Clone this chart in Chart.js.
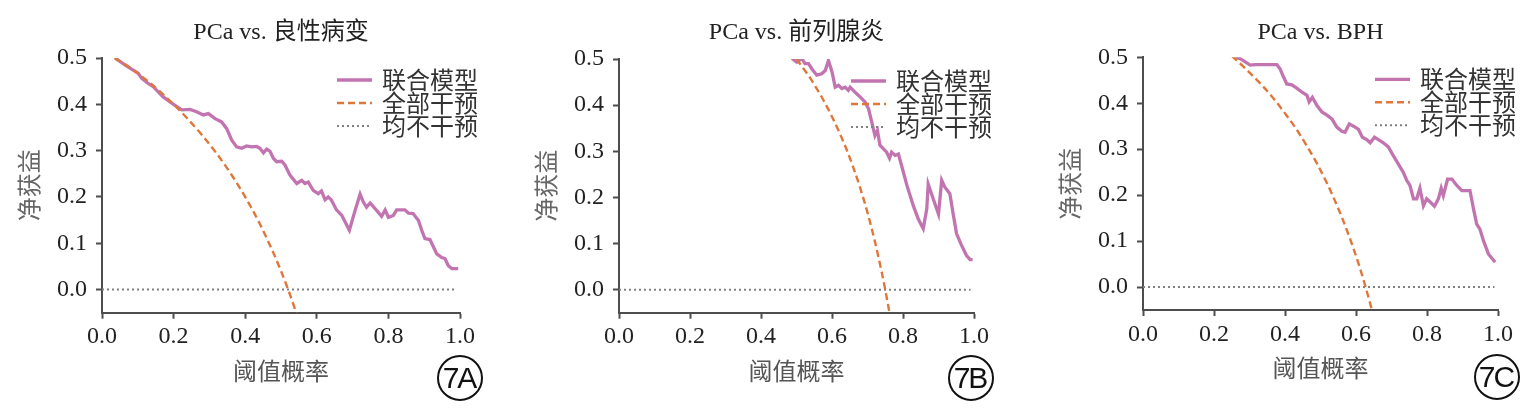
<!DOCTYPE html>
<html>
<head>
<meta charset="utf-8">
<script src="https://cdn.jsdelivr.net/npm/chart.js@4.4.0/dist/chart.umd.min.js"></script>
<style>
  html, body { margin: 0; padding: 0; background: #ffffff; width: 1533px; height: 408px; overflow: hidden; }
  .panel { position: absolute; top: 0; width: 511px; height: 408px; }
  .badge { position: absolute; width: 46px; height: 46px; box-sizing: border-box; border: 2px solid #111;
           border-radius: 50%; display: flex; align-items: center; justify-content: center;
           font-family: "Liberation Sans", sans-serif; font-size: 30px; letter-spacing: -2px; color: #111;
           padding-right: 2px; }
</style>
</head>
<body>
<div class="panel" style="left:0px"><canvas id="cA" width="511" height="408"></canvas></div>
<div class="panel" style="left:517px"><canvas id="cB" width="511" height="408"></canvas></div>
<div class="panel" style="left:1041px"><canvas id="cC" width="511" height="408"></canvas></div>
<div class="badge" style="left:437px; top:355px">7A</div>
<div class="badge" style="left:948px; top:355px">7B</div>
<div class="badge" style="left:1474px; top:354px">7C</div>
<script>
// ---- text ----
const panelTitles = ['PCa vs. 良性病变', 'PCa vs. 前列腺炎', 'PCa vs. BPH'];
const seriesNames = ['联合模型', '全部干预', '均不干预'];
const xAxisTitle = '阈值概率';
const yAxisTitle = '净获益';

// ---- tick values ----
const xTickValues = [0.0, 0.2, 0.4, 0.6, 0.8, 1.0];
const yTickValues = [0.0, 0.1, 0.2, 0.3, 0.4, 0.5];

// ---- series: [threshold, net benefit] ----
const modelA = [[0.036,0.500],[0.064,0.485],[0.087,0.474],[0.101,0.467],[0.111,0.456],[0.129,0.445],[0.143,0.438],[0.157,0.427],[0.171,0.416],[0.190,0.405],[0.209,0.395],[0.223,0.388],[0.246,0.389],[0.264,0.384],[0.283,0.377],[0.297,0.380],[0.316,0.369],[0.334,0.362],[0.348,0.348],[0.362,0.323],[0.376,0.308],[0.390,0.305],[0.404,0.310],[0.418,0.308],[0.432,0.309],[0.441,0.305],[0.451,0.295],[0.460,0.303],[0.469,0.299],[0.479,0.283],[0.488,0.276],[0.502,0.277],[0.511,0.269],[0.525,0.247],[0.544,0.229],[0.558,0.236],[0.567,0.229],[0.576,0.232],[0.590,0.214],[0.604,0.207],[0.613,0.213],[0.623,0.194],[0.632,0.200],[0.641,0.193],[0.655,0.172],[0.670,0.160],[0.691,0.128],[0.707,0.171],[0.721,0.206],[0.730,0.189],[0.739,0.178],[0.749,0.187],[0.767,0.171],[0.781,0.158],[0.791,0.172],[0.800,0.156],[0.814,0.160],[0.823,0.172],[0.846,0.172],[0.856,0.165],[0.869,0.164],[0.884,0.149],[0.893,0.128],[0.902,0.110],[0.916,0.108],[0.926,0.092],[0.935,0.077],[0.949,0.069],[0.958,0.067],[0.967,0.052],[0.977,0.045],[0.995,0.045]];
const treatAllA = [[0.036,0.500],[0.08,0.478],[0.12,0.455],[0.16,0.429],[0.20,0.400],[0.24,0.368],[0.28,0.333],[0.32,0.294],[0.36,0.250],[0.40,0.200],[0.44,0.143],[0.48,0.077],[0.50,0.040],[0.52,0.000],[0.54,-0.044],[0.56,-0.091]];
const treatNoneA = [[0.0,0.0],[0.99,0.0]];

const modelB = [[0.487,0.501],[0.501,0.493],[0.515,0.501],[0.524,0.490],[0.534,0.490],[0.543,0.479],[0.557,0.465],[0.571,0.468],[0.581,0.475],[0.590,0.497],[0.600,0.472],[0.609,0.439],[0.618,0.443],[0.628,0.436],[0.637,0.439],[0.646,0.432],[0.651,0.439],[0.665,0.428],[0.679,0.418],[0.693,0.407],[0.703,0.392],[0.712,0.363],[0.721,0.334],[0.728,0.345],[0.735,0.313],[0.745,0.305],[0.754,0.298],[0.762,0.285],[0.768,0.298],[0.778,0.291],[0.787,0.294],[0.796,0.269],[0.811,0.226],[0.829,0.182],[0.843,0.153],[0.857,0.132],[0.867,0.175],[0.871,0.229],[0.885,0.197],[0.900,0.164],[0.909,0.237],[0.918,0.222],[0.932,0.208],[0.942,0.161],[0.951,0.121],[0.965,0.096],[0.979,0.074],[0.989,0.065],[0.996,0.065]];
const treatAllB = [[0.50,0.500],[0.52,0.479],[0.54,0.457],[0.56,0.432],[0.58,0.405],[0.60,0.375],[0.62,0.342],[0.64,0.306],[0.66,0.265],[0.68,0.219],[0.70,0.167],[0.72,0.107],[0.74,0.038],[0.75,0.000],[0.76,-0.042],[0.77,-0.087]];
const treatNoneB = [[0.0,0.0],[0.99,0.0]];

const modelC = [[0.260,0.500],[0.274,0.497],[0.288,0.490],[0.302,0.483],[0.316,0.484],[0.330,0.484],[0.344,0.484],[0.363,0.484],[0.377,0.484],[0.386,0.475],[0.396,0.457],[0.405,0.442],[0.419,0.440],[0.433,0.433],[0.448,0.424],[0.462,0.417],[0.468,0.403],[0.477,0.413],[0.490,0.395],[0.504,0.381],[0.518,0.374],[0.532,0.366],[0.546,0.348],[0.560,0.339],[0.569,0.337],[0.581,0.355],[0.593,0.350],[0.607,0.343],[0.618,0.326],[0.630,0.321],[0.640,0.314],[0.652,0.326],[0.663,0.321],[0.677,0.314],[0.691,0.305],[0.705,0.286],[0.719,0.268],[0.733,0.250],[0.743,0.232],[0.752,0.221],[0.762,0.192],[0.771,0.192],[0.780,0.215],[0.790,0.177],[0.799,0.192],[0.809,0.185],[0.821,0.176],[0.832,0.192],[0.840,0.215],[0.846,0.199],[0.858,0.235],[0.870,0.235],[0.884,0.221],[0.898,0.210],[0.921,0.210],[0.931,0.170],[0.940,0.137],[0.949,0.126],[0.959,0.101],[0.973,0.072],[0.992,0.054]];
const treatAllC = [[0.25,0.503],[0.28,0.482],[0.31,0.459],[0.34,0.435],[0.37,0.408],[0.40,0.378],[0.43,0.346],[0.46,0.309],[0.49,0.269],[0.52,0.223],[0.55,0.171],[0.58,0.112],[0.61,0.044],[0.627,0.000],[0.64,-0.036],[0.66,-0.097]];
const treatNoneC = [[0.0,0.0],[0.99,0.0]];

// ---- styling / layout ----
const AXIS_COLOR = '#4d4d4d';
const COLOR_MODEL = '#c274b0';
const COLOR_ALL = '#e0773a';
const COLOR_NONE = '#808080';
const CJK = '"Noto Sans CJK SC", sans-serif';
const SERIF = '"Liberation Serif", "Noto Sans CJK SC", serif';

const panels = [
  { id: 'cA', title: panelTitles[0], model: modelA, all: treatAllA, none: treatNoneA, plotW: 358, top: 58,   bottom: 312.7, xTitleY: 371 },
  { id: 'cB', title: panelTitles[1], model: modelB, all: treatAllB, none: treatNoneB, plotW: 355, top: 59,   bottom: 312.7, xTitleY: 371 },
  { id: 'cC', title: panelTitles[2], model: modelC, all: treatAllC, none: treatNoneC, plotW: 355, top: 57.3, bottom: 310,   xTitleY: 368.3 }
];

const toXY = arr => arr.map(p => ({ x: p[0], y: p[1] }));

const insideLegend = {
  id: 'insideLegend',
  afterDatasetsDraw(chart) {
    const { ctx, chartArea } = chart;
    ctx.save();
    chart.data.datasets.forEach((ds, i) => {
      const y = chartArea.top + 22 + i * 23;
      ctx.beginPath();
      ctx.setLineDash(ds.borderDash || []);
      ctx.lineWidth = ds.borderWidth;
      ctx.strokeStyle = ds.borderColor;
      ctx.moveTo(chartArea.right - 123, y);
      ctx.lineTo(chartArea.right - 88, y);
      ctx.stroke();
      ctx.setLineDash([]);
      ctx.fillStyle = '#333';
      ctx.font = '24px ' + CJK;
      ctx.textBaseline = 'middle';
      ctx.textAlign = 'left';
      ctx.fillText(ds.label, chartArea.right - 78, y);
    });
    ctx.restore();
  }
};

panels.forEach(p => {
  const canvasH = 408, canvasW = 511, axisX = 102;
  const titleLH = 24 * 1.2;
  const titleTop = 32.5 - titleLH / 2;
  const titleBottom = p.top - titleTop - titleLH;
  const axTitleLH = 24 * 1.2;
  new Chart(document.getElementById(p.id), {
    type: 'line',
    data: {
      datasets: [
        { label: seriesNames[0], data: toXY(p.model), borderColor: COLOR_MODEL, borderWidth: 3.3,
          pointRadius: 0, tension: 0, order: 1 },
        { label: seriesNames[1], data: toXY(p.all), borderColor: COLOR_ALL, borderWidth: 2.4,
          borderDash: [7, 4], pointRadius: 0, cubicInterpolationMode: 'monotone', order: 0 },
        { label: seriesNames[2], data: toXY(p.none), borderColor: COLOR_NONE, borderWidth: 2,
          borderDash: [2, 3], pointRadius: 0, order: 2 }
      ]
    },
    options: {
      responsive: false,
      animation: false,
      events: [],
      layout: { padding: { left: 0, top: 0, bottom: 0, right: canvasW - axisX - p.plotW } },
      plugins: {
        legend: { display: false },
        tooltip: { enabled: false },
        title: {
          display: true, text: p.title, fullSize: false, color: '#222',
          font: { family: SERIF, size: 24, weight: 'normal', lineHeight: 1.2 },
          padding: { top: titleTop, bottom: titleBottom }
        }
      },
      scales: {
        x: {
          type: 'linear', min: 0, max: 1,
          afterFit(scale) { scale.height = canvasH - p.bottom; },
          afterBuildTicks(scale) { scale.ticks = xTickValues.map(v => ({ value: v })); },
          ticks: { callback: v => Number(v).toFixed(1), color: '#222', padding: 4,
                   font: { family: SERIF, size: 24 }, maxRotation: 0 },
          grid: { drawOnChartArea: false, drawTicks: true, tickLength: 6, tickColor: AXIS_COLOR, tickWidth: 2 },
          border: { display: true, color: AXIS_COLOR, width: 2 },
          title: { display: true, text: xAxisTitle, color: '#555',
                   font: { family: CJK, size: 24, lineHeight: 1.2 },
                   padding: { top: 0, bottom: canvasH - p.xTitleY - axTitleLH / 2 } }
        },
        y: {
          type: 'linear', min: -0.05, max: 0.5,
          afterFit(scale) { scale.width = axisX; },
          afterBuildTicks(scale) { scale.ticks = yTickValues.map(v => ({ value: v })); },
          ticks: { callback: v => Number(v).toFixed(1), color: '#222', padding: 9,
                   font: { family: SERIF, size: 24 } },
          grid: { drawOnChartArea: false, drawTicks: true, tickLength: 6, tickColor: AXIS_COLOR, tickWidth: 2 },
          border: { display: true, color: AXIS_COLOR, width: 2 },
          title: { display: true, text: yAxisTitle, color: '#666',
                   font: { family: CJK, size: 24, lineHeight: 1.2 },
                   padding: { top: 28.5 - axTitleLH / 2, bottom: 0 } }
        }
      }
    },
    plugins: [insideLegend]
  });
});
</script>
</body>
</html>
